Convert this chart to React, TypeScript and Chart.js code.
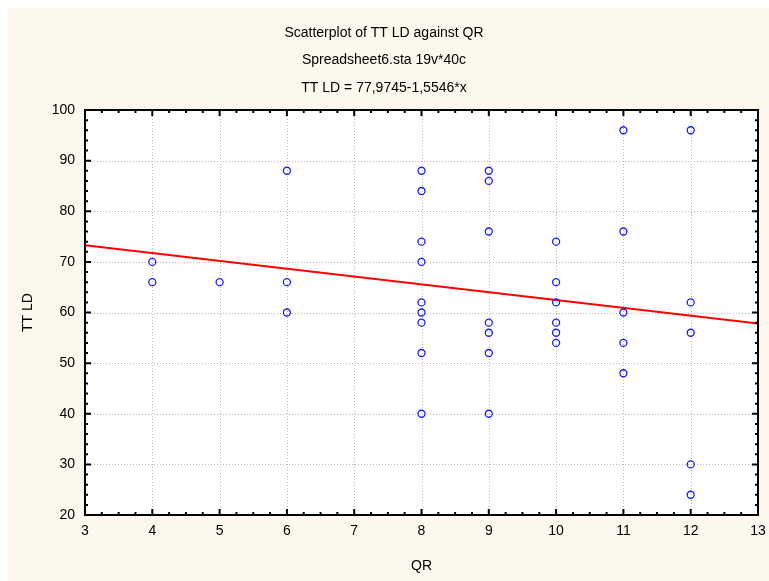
import React, { useEffect, useRef } from "react";
import { Chart, registerables } from "chart.js";

Chart.register(...registerables);

const titleLines = ["Scatterplot of TT LD against QR", "Spreadsheet6.sta 19v*40c", "TT LD = 77,9745-1,5546*x"];
const xTitle = "QR";
const yTitle = "TT LD";

const qrValues = [4, 4, 5, 6, 6, 6, 8, 8, 8, 8, 8, 8, 8, 8, 8, 9, 9, 9, 9, 9, 9, 9, 10, 10, 10, 10, 10, 10, 11, 11, 11, 11, 11, 12, 12, 12, 12, 12];
const ttldValues = [70, 66, 66, 88, 66, 60, 88, 84, 74, 70, 62, 60, 58, 52, 40, 88, 86, 76, 58, 56, 52, 40, 74, 66, 62, 58, 56, 54, 96, 76, 60, 54, 48, 96, 62, 56, 30, 24];

const fitX = [3, 13];
const fitY = [73.3, 57.85];

const xMin = 3, xMax = 13, xStep = 1, xMinor = 0.25;
const yMin = 20, yMax = 100, yStep = 10, yMinor = 2;

const W = 761, H = 573;
const CREAM = "#fcf8ee";

const decorPlugin = {
  id: "decor",
  beforeDraw(chart: any) {
    const { ctx, chartArea: a } = chart;
    ctx.save();
    ctx.fillStyle = CREAM;
    ctx.fillRect(0, 0, chart.width, chart.height);
    ctx.fillStyle = "#ffffff";
    ctx.fillRect(a.left, a.top, a.right - a.left, a.bottom - a.top);
    ctx.restore();
  },
  beforeDatasetsDraw(chart: any) {
    const { ctx, chartArea: a, scales } = chart;
    const xs = scales.x, ys = scales.y;
    ctx.save();
    ctx.strokeStyle = "#b8b8b8";
    ctx.lineWidth = 1;
    ctx.setLineDash([1, 2]);
    for (let v = xMin + xStep; v < xMax; v += xStep) {
      const px = Math.round(xs.getPixelForValue(v)) + 0.5;
      ctx.beginPath();
      ctx.moveTo(px, a.top);
      ctx.lineTo(px, a.bottom);
      ctx.stroke();
    }
    for (let v = yMin + yStep; v < yMax; v += yStep) {
      const py = Math.round(ys.getPixelForValue(v)) + 0.5;
      ctx.beginPath();
      ctx.moveTo(a.left, py);
      ctx.lineTo(a.right, py);
      ctx.stroke();
    }
    ctx.restore();
  },
  afterDraw(chart: any) {
    const { ctx, chartArea: a, scales } = chart;
    const xs = scales.x, ys = scales.y;
    ctx.save();
    ctx.strokeStyle = "#000";
    ctx.lineWidth = 2;
    ctx.setLineDash([]);
    ctx.strokeRect(a.left, a.top, a.right - a.left, a.bottom - a.top);
    ctx.lineWidth = 2;
    const nx = Math.round((xMax - xMin) / xMinor);
    for (let i = 0; i <= nx; i++) {
      const v = xMin + i * xMinor;
      const major = Math.abs(v / xStep - Math.round(v / xStep)) < 1e-6;
      const len = major ? 6 : 3;
      const px = xs.getPixelForValue(v);
      ctx.beginPath();
      ctx.moveTo(px, a.bottom);
      ctx.lineTo(px, a.bottom - len);
      ctx.moveTo(px, a.top);
      ctx.lineTo(px, a.top + len);
      ctx.stroke();
    }
    const ny = Math.round((yMax - yMin) / yMinor);
    for (let i = 0; i <= ny; i++) {
      const v = yMin + i * yMinor;
      const major = Math.abs(v / yStep - Math.round(v / yStep)) < 1e-6;
      const len = major ? 6 : 3;
      const py = ys.getPixelForValue(v);
      ctx.beginPath();
      ctx.moveTo(a.left, py);
      ctx.lineTo(a.left + len, py);
      ctx.moveTo(a.right, py);
      ctx.lineTo(a.right - len, py);
      ctx.stroke();
    }
    ctx.fillStyle = "#000";
    ctx.font = "14px 'Liberation Sans', Arial, sans-serif";
    ctx.textAlign = "center";
    ctx.textBaseline = "middle";
    const ty = [25, 52, 80];
    titleLines.forEach((t, i) => ctx.fillText(t, 376, ty[i]));
    ctx.fillText(xTitle, (a.left + a.right) / 2, 558);
    ctx.translate(20, (a.top + a.bottom) / 2);
    ctx.rotate(-Math.PI / 2);
    ctx.fillText(yTitle, 0, 0);
    ctx.restore();
  },
};

export default function App() {
  const ref = useRef<HTMLCanvasElement>(null);
  useEffect(() => {
    document.documentElement.style.overflow = "hidden";
    document.body.style.overflow = "visible";
    document.body.style.marginRight = "0px";
    document.body.style.marginBottom = "0px";
    if (!ref.current) return;
    const pts = qrValues.map((x, i) => ({ x, y: ttldValues[i] }));
    const fit = fitX.map((x, i) => ({ x, y: fitY[i] }));
    const font = { family: "'Liberation Sans', Arial, sans-serif", size: 14 };
    const chart = new Chart(ref.current, {
      type: "scatter",
      data: {
        datasets: [
          {
            data: pts,
            pointStyle: "circle",
            pointRadius: 3.5,
            pointBorderWidth: 1.3,
            pointBorderColor: "#1a1aff",
            pointBackgroundColor: "rgba(255,255,255,0)",
            order: 1,
          },
          {
            type: "line",
            data: fit,
            borderColor: "#ff0000",
            borderWidth: 2,
            pointRadius: 0,
            showLine: true,
            order: 2,
          } as any,
        ],
      },
      options: {
        responsive: false,
        animation: false,
        devicePixelRatio: 1,
        events: [],
        layout: { padding: { top: 102, right: 11, left: 0, bottom: 0 } },
        plugins: { legend: { display: false }, tooltip: { enabled: false }, title: { display: false } },
        scales: {
          x: {
            type: "linear",
            min: xMin,
            max: xMax,
            grid: { display: false, drawTicks: false },
            border: { display: false },
            ticks: { stepSize: xStep, color: "#000", font, padding: 8 },
            afterFit: (s: any) => { s.height = 66; s.paddingLeft = 0; s.paddingRight = 0; },
          },
          y: {
            type: "linear",
            min: yMin,
            max: yMax,
            grid: { display: false, drawTicks: false },
            border: { display: false },
            ticks: { stepSize: yStep, color: "#000", font, padding: 10 },
            afterFit: (s: any) => { s.width = 77; s.paddingTop = 0; s.paddingBottom = 0; },
          },
        },
      },
      plugins: [decorPlugin],
    });
    return () => chart.destroy();
  }, []);
  return <canvas ref={ref} width={W} height={H} style={{ display: "block" }} />;
}
